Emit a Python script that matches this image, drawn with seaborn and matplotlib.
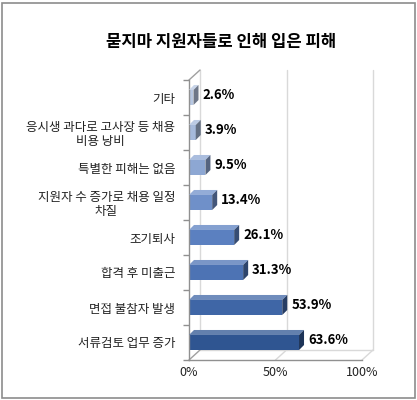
import numpy as np
import seaborn as sns
from matplotlib import pyplot as plt
from matplotlib.patches import Polygon as MplPolygon, Rectangle
from matplotlib.lines import Line2D

categories = [
    "기타",
    "응시생 과다로 고사장 등 채용\n비용 낭비",
    "특별한 피해는 없음",
    "지원자 수 증가로 채용 일정\n차질",
    "조기퇴사",
    "합격 후 미출근",
    "면접 불참자 발생",
    "서류검토 업무 증가",
]
values = [2.6, 3.9, 9.5, 13.4, 26.1, 31.3, 53.9, 63.6]
value_labels = ["2.6%", "3.9%", "9.5%", "13.4%", "26.1%", "31.3%", "53.9%", "63.6%"]
x_ticks = [0, 50, 100]
x_tick_labels = ["0%", "50%", "100%"]
title = "묻지마 지원자들로 인해 입은 피해"

bar_colors = ["#b7c7e2", "#a6badb", "#8da7d3", "#6f90c9", "#5b80c0",
              "#4d73b4", "#3f66a6", "#2f5591"]

sns.set_theme(style="white")
plt.rcParams['font.family'] = ['Noto Sans CJK KR', 'DejaVu Sans']

fig = plt.figure(figsize=(4.17, 4.0), dpi=100)
ax = fig.add_axes([189 / 417, 40 / 400, 173 / 417, 280 / 400])

sns.barplot(x=values, y=categories, hue=categories, palette=bar_colors,
            orient="h", width=0.43, legend=False, ax=ax, saturation=1,
            linewidth=0)
ax.set_xlim(0, 100)
ax.set_ylim(len(categories) - 0.5, -0.5)

# wall depth and bar depth, in pixels
wall_dx, wall_dy = 11, 10
bar_dx, bar_dy = 5, 5


def shade(c, f):
    rgb = np.array(plt.matplotlib.colors.to_rgb(c))
    if f < 1:
        return tuple(rgb * f)
    return tuple(rgb + (1 - rgb) * (f - 1))


def disp(x, y, dx=0, dy=0):
    px, py = ax.transData.transform((x, y))
    return (px + dx, py + dy)


# back wall / floor lines
grid_col = "#d9d9d9"
lines = []
for xv in x_ticks[1:]:
    lines.append([disp(xv, 7.5, wall_dx, wall_dy), disp(xv, -0.5, wall_dx, wall_dy)])
    lines.append([disp(xv, 7.5), disp(xv, 7.5, wall_dx, wall_dy)])
lines.append([disp(0, 7.5, wall_dx, wall_dy), disp(0, -0.5, wall_dx, wall_dy)])
lines.append([disp(0, 7.5, wall_dx, wall_dy), disp(100, 7.5, wall_dx, wall_dy)])
for seg in lines:
    (x0, y0), (x1, y1) = seg
    fig.add_artist(Line2D([x0, x1], [y0, y1], transform=None, color=grid_col,
                          lw=1, zorder=0))
for seg, col in [([disp(0, 7.5), disp(0, 7.5, wall_dx, wall_dy)], "#a0a0a0"),
                 ([disp(0, -0.5), disp(0, -0.5, wall_dx, wall_dy)], "#a0a0a0")]:
    (x0, y0), (x1, y1) = seg
    fig.add_artist(Line2D([x0, x1], [y0, y1], transform=None, color=col,
                          lw=1, zorder=0))

# 3D faces on bars
for patch, color, label in zip(ax.patches, bar_colors, value_labels):
    x0, y0 = patch.get_x(), patch.get_y()
    w, h = patch.get_width(), patch.get_height()
    x1 = x0 + w
    ytop, ybot = y0, y0 + h  # inverted axis: y0 is visually top
    top = [disp(x0, ytop), disp(x1, ytop), disp(x1, ytop, bar_dx, bar_dy),
           disp(x0, ytop, bar_dx, bar_dy)]
    side = [disp(x1, ytop), disp(x1, ybot), disp(x1, ybot, bar_dx, bar_dy),
            disp(x1, ytop, bar_dx, bar_dy)]
    fig.add_artist(MplPolygon(top, closed=True, transform=None,
                              facecolor=shade(color, 1.25), edgecolor="none", zorder=3))
    fig.add_artist(MplPolygon(side, closed=True, transform=None,
                              facecolor=shade(color, 0.6), edgecolor="none", zorder=3))
    ax.annotate(label, (x1, (ytop + ybot) / 2), xytext=(6.5, 1.5),
                textcoords="offset points", ha="left", va="center",
                fontsize=9.5, fontweight="bold", color="black")

# axes styling
for s in ["top", "right"]:
    ax.spines[s].set_visible(False)
for s in ["left", "bottom"]:
    ax.spines[s].set_color("#909090")
    ax.spines[s].set_linewidth(1)
ax.set_xticks(x_ticks)
ax.set_xticklabels(x_tick_labels, fontsize=9, color="#222222")
ax.tick_params(axis="x", length=0, pad=4)
ax.tick_params(axis="y", which="major", length=0, pad=10, labelsize=9,
               labelcolor="#222222")
ax.set_yticks(np.arange(-0.5, len(categories), 1.0), minor=True)
ax.tick_params(axis="y", which="minor", length=4, width=1, color="#909090",
               direction="out", left=True)
for lab in ax.get_yticklabels():
    lab.set_multialignment("center")
    lab.set_linespacing(1.1)
ax.set_xlabel("")
ax.set_ylabel("")
ax.patch.set_alpha(0)

fig.text(221 / 417, 1 - 42 / 400, title, ha="center", va="center",
         fontsize=12, fontweight="bold", color="black")

fig.add_artist(Rectangle((2 / 417, 2 / 400), 413 / 417, 395 / 400,
                         transform=fig.transFigure, fill=False,
                         edgecolor="#8c8c8c", lw=1.2))

fig.savefig("out.png", dpi=100)
